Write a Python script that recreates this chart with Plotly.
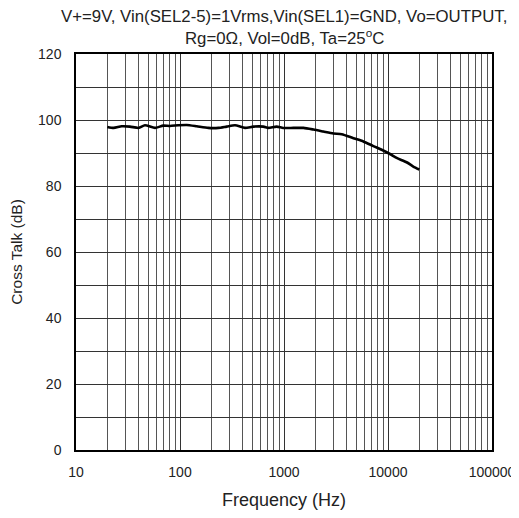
import plotly.graph_objects as go

freq_hz = [20, 23, 27.5, 33, 40, 46, 57.5, 69, 80, 96, 116, 145, 187, 234, 281, 338, 422,
           507, 633, 707, 849, 984, 1230, 1540, 1920, 2390, 2980, 3590, 4650, 5800, 7230,
           8690, 10450, 12100, 15100, 17500, 20000]
cross_talk_db = [97.9, 97.6, 98.1, 98.0, 97.6, 98.4, 97.6, 98.3, 98.2, 98.4, 98.5, 98.1,
                 97.6, 97.6, 98.0, 98.4, 97.6, 98.0, 98.0, 97.6, 98.0, 97.6, 97.6, 97.6,
                 97.1, 96.5, 95.9, 95.7, 94.5, 93.5, 92.1, 91.0, 89.7, 88.5, 87.2, 85.9, 85.0]

x_tickvals = [10, 100, 1000, 10000, 100000]
x_ticktext = ["10", "100", "1000", "10000", "100000"]
y_tickvals = [0, 20, 40, 60, 80, 100, 120]

title_line1 = "V+=9V, Vin(SEL2-5)=1Vrms,Vin(SEL1)=GND, Vo=OUTPUT,"
title_line2 = "Rg=0Ω, Vol=0dB, Ta=25<sup>o</sup>C"

FONT = "Liberation Sans, Arial, sans-serif"

fig = go.Figure()
fig.add_trace(go.Scatter(
    x=freq_hz, y=cross_talk_db, mode="lines",
    line=dict(color="black", width=2.6, shape="spline", smoothing=0.6),
    showlegend=False, hoverinfo="skip"))

# page body adds an 8px offset; figure sized so the page fits without scrolling
fig.update_layout(
    width=511, height=502,
    margin=dict(l=68, r=27, t=46, b=60),
    paper_bgcolor="white", plot_bgcolor="white",
    font=dict(family=FONT, size=14, color="#222"),
)

fig.update_xaxes(
    type="log", range=[1, 5], automargin=False,
    tickvals=x_tickvals, ticktext=x_ticktext,
    showgrid=True, gridcolor="#333", gridwidth=1,
    minor=dict(showgrid=True, gridcolor="#555", gridwidth=1,
               tickvals=[m * 10 ** d for d in range(1, 5) for m in range(2, 10)]),
    showline=True, linecolor="black", linewidth=1.5, mirror=True,
    ticks="", ticklabelstandoff=8,
    title=dict(text="Frequency (Hz)", font=dict(size=18), standoff=16),
    zeroline=False,
)
fig.update_yaxes(
    range=[0, 120], tickvals=y_tickvals, automargin=False,
    showgrid=True, gridcolor="#333", gridwidth=1,
    minor=dict(showgrid=True, gridcolor="#333", gridwidth=1, dtick=10),
    showline=True, linecolor="black", linewidth=1.5, mirror=True,
    ticks="", ticklabelstandoff=10,
    title=dict(text="Cross Talk (dB)", font=dict(size=15.5), standoff=12),
    zeroline=False,
)

fig.add_annotation(text=title_line1, xref="paper", yref="paper", x=0.5, y=1.0,
                   yshift=26, xanchor="center", yanchor="bottom", showarrow=False,
                   font=dict(size=16.8, family=FONT, color="#222"))
fig.add_annotation(text=title_line2, xref="paper", yref="paper", x=0.5, y=1.0,
                   yshift=4, xanchor="center", yanchor="bottom", showarrow=False,
                   font=dict(size=16.8, family=FONT, color="#222"))

fig.write_html("out.html")
